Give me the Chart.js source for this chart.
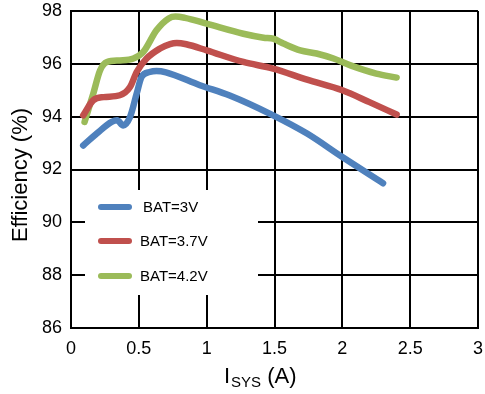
<!DOCTYPE html>
<html>
<head>
<meta charset="utf-8">
<script src="https://cdn.jsdelivr.net/npm/chart.js@4/dist/chart.umd.min.js"></script>
<style>
  html, body { margin: 0; padding: 0; background: #fff; }
</style>
</head>
<body>
<canvas id="effchart" width="485" height="394"></canvas>
<script>
// efficiency vs system current
var seriesNames = ['BAT=3V', 'BAT=3.7V', 'BAT=4.2V'];
var seriesColors = ['#4F81BD', '#C0504D', '#9BBB59'];

var xs3V = [0.09, 0.19, 0.30, 0.34, 0.385, 0.435, 0.484, 0.52, 0.58, 0.63, 0.7, 0.95, 1.17, 1.49, 1.74, 2.0, 2.3];
var eff3V = [92.91, 93.36, 93.8, 93.86, 93.67, 93.99, 94.87, 95.5, 95.69, 95.73, 95.68, 95.19, 94.8, 94.05, 93.36, 92.47, 91.48];

var xs37V = [0.09, 0.164, 0.24, 0.36, 0.435, 0.484, 0.557, 0.656, 0.73, 0.78, 0.85, 1.0, 1.27, 1.49, 1.74, 2.0, 2.2, 2.4];
var eff37V = [94.05, 94.62, 94.74, 94.81, 95.12, 95.69, 96.2, 96.58, 96.75, 96.79, 96.74, 96.51, 96.07, 95.82, 95.4, 95.0, 94.55, 94.08];

var xs42V = [0.1, 0.164, 0.214, 0.265, 0.36, 0.46, 0.533, 0.63, 0.72, 0.77, 0.84, 1.0, 1.27, 1.42, 1.49, 1.565, 1.69, 1.81, 1.935, 2.06, 2.25, 2.4];
var eff42V = [93.8, 94.87, 95.75, 96.07, 96.13, 96.2, 96.45, 97.27, 97.72, 97.79, 97.74, 97.52, 97.14, 96.99, 96.95, 96.77, 96.51, 96.39, 96.2, 95.94, 95.63, 95.48];

var xTicks = [0, 0.5, 1, 1.5, 2, 2.5, 3];
var yTicks = [86, 88, 90, 92, 94, 96, 98];

function toPoints(xs, ys) {
    var pts = [];
    for (var i = 0; i < xs.length; i++) {
        pts.push({x: xs[i], y: ys[i]});
    }
    return pts;
}

var allX = [xs3V, xs37V, xs42V];
var allY = [eff3V, eff37V, eff42V];
var datasets = [];
for (var i = 0; i < seriesNames.length; i++) {
    datasets.push({
        label: seriesNames[i],
        data: toPoints(allX[i], allY[i]),
        borderColor: seriesColors[i],
        backgroundColor: seriesColors[i],
        borderWidth: 6.5,
        borderCapStyle: 'round',
        borderJoinStyle: 'round',
        cubicInterpolationMode: 'monotone',
        pointRadius: 0,
        fill: false
    });
}

// legend box sits inside the plot, drawn by hand
var insideLegend = {
    id: 'insideLegend',
    afterDatasetsDraw: function(chart) {
        var ctx = chart.ctx;
        ctx.save();
        ctx.fillStyle = '#fff';
        ctx.fillRect(85, 190, 173, 105);
        var rows = [207, 241, 276];
        ctx.font = '15px "Liberation Sans", Arial, sans-serif';
        ctx.textBaseline = 'middle';
        ctx.textAlign = 'left';
        chart.data.datasets.forEach(function(ds, i) {
            ctx.strokeStyle = ds.borderColor;
            ctx.lineWidth = 6;
            ctx.lineCap = 'round';
            ctx.beginPath();
            ctx.moveTo(101, rows[i]);
            ctx.lineTo(129, rows[i]);
            ctx.stroke();
            ctx.fillStyle = '#000';
            ctx.fillText(ds.label, i === 0 ? 143 : 140, rows[i] + 1);
        });
        ctx.restore();
    }
};

// axis titles (x title needs the SYS subscript)
var axisTitles = {
    id: 'axisTitles',
    afterDraw: function(chart) {
        var ctx = chart.ctx;
        ctx.save();
        ctx.fillStyle = '#000';
        ctx.textBaseline = 'alphabetic';
        ctx.textAlign = 'left';
        var big = '22px "Liberation Sans", Arial, sans-serif';
        var small = '15px "Liberation Sans", Arial, sans-serif';
        var x = 224, base = 383;
        ctx.font = big;
        ctx.fillText('I', x, base);
        x += ctx.measureText('I').width + 1;
        ctx.font = small;
        ctx.fillText('SYS', x, base + 4);
        x += ctx.measureText('SYS').width;
        ctx.font = big;
        ctx.fillText(' (A)', x, base);

        ctx.translate(27, 175);
        ctx.rotate(-Math.PI / 2);
        ctx.textAlign = 'center';
        ctx.font = big;
        ctx.fillText('Efficiency (%)', 0, 0);
        ctx.restore();
    }
};

var ctx = document.getElementById('effchart').getContext('2d');
var effChart = new Chart(ctx, {
    type: 'line',
    data: { datasets: datasets },
    options: {
        responsive: false,
        animation: false,
        layout: { padding: { top: 11, right: 7, left: 0, bottom: 0 } },
        plugins: {
            legend: { display: false },
            tooltip: { enabled: false }
        },
        scales: {
            x: {
                type: 'linear',
                min: 0,
                max: 3,
                afterBuildTicks: function(scale) {
                    scale.ticks = xTicks.map(function(v) { return {value: v}; });
                },
                afterFit: function(scale) {
                    scale.height = 66;
                    scale.paddingLeft = 0;
                    scale.paddingRight = 0;
                },
                grid: { color: '#000', lineWidth: 2, drawTicks: false },
                border: { color: '#000', width: 2 },
                ticks: {
                    color: '#000',
                    padding: 10,
                    maxRotation: 0,
                    callback: function(v) { return String(v); },
                    font: { family: '"Liberation Sans", Arial, sans-serif', size: 18 }
                }
            },
            y: {
                min: 86,
                max: 98,
                afterBuildTicks: function(scale) {
                    scale.ticks = yTicks.map(function(v) { return {value: v}; });
                },
                afterFit: function(scale) {
                    scale.width = 71;
                    scale.paddingTop = 0;
                    scale.paddingBottom = 0;
                },
                grid: { color: '#000', lineWidth: 2, drawTicks: false },
                border: { color: '#000', width: 2 },
                ticks: {
                    color: '#000',
                    padding: 9,
                    callback: function(v) { return String(v); },
                    font: { family: '"Liberation Sans", Arial, sans-serif', size: 18 }
                }
            }
        }
    },
    plugins: [insideLegend, axisTitles]
});
</script>
</body>
</html>
